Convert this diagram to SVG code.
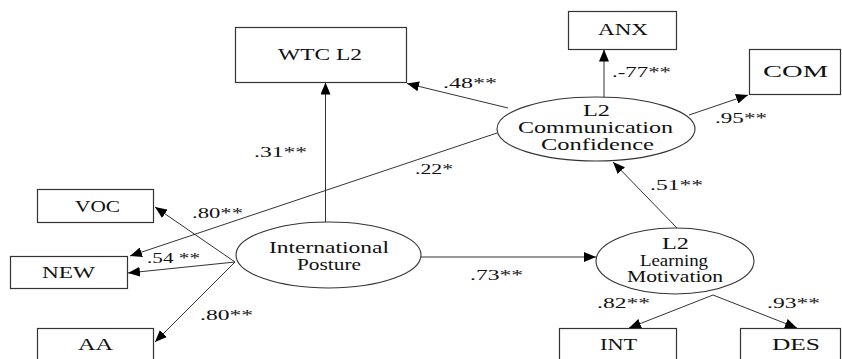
<svg xmlns="http://www.w3.org/2000/svg" width="842" height="359" viewBox="0 0 842 359" font-family="Liberation Serif, DejaVu Serif, serif">
  <style>
    .box { fill: #ffffff; stroke: #333333; stroke-width: 1.2; }
    .lat { fill: #ffffff; stroke: #333333; stroke-width: 1.1; }
    text { font-family: "Liberation Serif", "DejaVu Serif", serif; fill: #111111; }
    .lbl { font-size: 16px; }
    .coef { font-size: 15px; }
    .edge { fill: none; stroke: #333333; stroke-width: 1; marker-end: url(#head); }
  </style>
  <defs>
    <marker id="head" viewBox="0 0 12 10" refX="12" refY="5" markerWidth="12" markerHeight="10" markerUnits="userSpaceOnUse" orient="auto">
      <path d="M0,0 L12,5 L0,10 Z" fill="#000000"/>
    </marker>
  </defs>
  <rect width="842" height="359" fill="#ffffff"/>

  <!-- paths between constructs and indicators -->
  <g id="connectors">
    <line class="edge" x1="325.5" y1="222" x2="325.5" y2="82.5"/>
    <line class="edge" x1="508" y1="108" x2="407" y2="83.5"/>
    <line class="edge" x1="604" y1="97" x2="604" y2="49.5"/>
    <line class="edge" x1="689" y1="115" x2="748" y2="95"/>
    <line class="edge" x1="497" y1="133" x2="130" y2="256"/>
    <line class="edge" x1="677" y1="228" x2="613" y2="162"/>
    <line class="edge" x1="421" y1="257" x2="596" y2="257"/>
    <line class="edge" x1="235" y1="262" x2="155" y2="207"/>
    <line class="edge" x1="235" y1="262" x2="128" y2="273"/>
    <line class="edge" x1="235" y1="262" x2="155" y2="342"/>
    <line class="edge" x1="713" y1="295" x2="629" y2="328"/>
    <line class="edge" x1="713" y1="295" x2="797" y2="328"/>
  </g>

  <!-- path coefficients -->
  <g id="coefficients" font-family="Liberation Serif, DejaVu Serif, serif" font-size="15">
    <text class="coef" x="443" y="88" textLength="54" lengthAdjust="spacingAndGlyphs">.48**</text>
    <text class="coef" x="612" y="77" textLength="59" lengthAdjust="spacingAndGlyphs">.-77**</text>
    <text class="coef" x="715" y="123" textLength="52" lengthAdjust="spacingAndGlyphs">.95**</text>
    <text class="coef" x="254" y="157" textLength="53" lengthAdjust="spacingAndGlyphs">.31**</text>
    <text class="coef" x="415" y="174" textLength="38" lengthAdjust="spacingAndGlyphs">.22*</text>
    <text class="coef" x="192" y="218" textLength="51" lengthAdjust="spacingAndGlyphs">.80**</text>
    <text class="coef" x="147" y="263" textLength="53" lengthAdjust="spacingAndGlyphs">.54 **</text>
    <text class="coef" x="200" y="320" textLength="53" lengthAdjust="spacingAndGlyphs">.80**</text>
    <text class="coef" x="470" y="280" textLength="53" lengthAdjust="spacingAndGlyphs">.73**</text>
    <text class="coef" x="650" y="190" textLength="53" lengthAdjust="spacingAndGlyphs">.51**</text>
    <text class="coef" x="597" y="308" textLength="53" lengthAdjust="spacingAndGlyphs">.82**</text>
    <text class="coef" x="767" y="308" textLength="53" lengthAdjust="spacingAndGlyphs">.93**</text>
  </g>

  <!-- observed variables -->
  <g id="wtc">
    <rect class="box" x="235.5" y="27.5" width="171" height="55"/>
    <text class="lbl" x="278" y="59.5" textLength="84" lengthAdjust="spacingAndGlyphs">WTC L2</text>
  </g>
  <g id="anx">
    <rect class="box" x="568.5" y="11.5" width="108" height="38"/>
    <text class="lbl" x="598" y="35" textLength="50" lengthAdjust="spacingAndGlyphs">ANX</text>
  </g>
  <g id="com">
    <rect class="box" x="749.5" y="49.5" width="91" height="45"/>
    <text class="lbl" x="763" y="77" textLength="65" lengthAdjust="spacingAndGlyphs">COM</text>
  </g>
  <g id="voc">
    <rect class="box" x="37.5" y="189.5" width="116" height="33"/>
    <text class="lbl" x="75" y="212" textLength="45" lengthAdjust="spacingAndGlyphs">VOC</text>
  </g>
  <g id="new">
    <rect class="box" x="10.5" y="256.5" width="117" height="32"/>
    <text class="lbl" x="42" y="278" textLength="53" lengthAdjust="spacingAndGlyphs">NEW</text>
  </g>
  <g id="aa">
    <rect class="box" x="37.5" y="328.5" width="116" height="40"/>
    <text class="lbl" x="78" y="350" textLength="35" lengthAdjust="spacingAndGlyphs">AA</text>
  </g>
  <g id="int">
    <rect class="box" x="559.5" y="328.5" width="117" height="40"/>
    <text class="lbl" x="600" y="350" textLength="37" lengthAdjust="spacingAndGlyphs">INT</text>
  </g>
  <g id="des">
    <rect class="box" x="740.5" y="328.5" width="100" height="40"/>
    <text class="lbl" x="772" y="350" textLength="48" lengthAdjust="spacingAndGlyphs">DES</text>
  </g>

  <!-- latent constructs -->
  <g id="confidence">
    <ellipse class="lat" cx="596" cy="129" rx="99" ry="32"/>
    <text class="lbl" x="583" y="115.5" textLength="27" lengthAdjust="spacingAndGlyphs">L2</text>
    <text class="lbl" x="518" y="132.5" textLength="155" lengthAdjust="spacingAndGlyphs">Communication</text>
    <text class="lbl" x="541" y="150" textLength="113" lengthAdjust="spacingAndGlyphs">Confidence</text>
  </g>
  <g id="posture">
    <ellipse class="lat" cx="328.5" cy="255" rx="92.5" ry="33"/>
    <text class="lbl" x="269" y="252.5" textLength="120" lengthAdjust="spacingAndGlyphs">International</text>
    <text class="lbl" x="297" y="269.5" textLength="64" lengthAdjust="spacingAndGlyphs">Posture</text>
  </g>
  <g id="motivation">
    <ellipse class="lat" cx="675" cy="261" rx="79" ry="33"/>
    <text class="lbl" x="662" y="249" textLength="27" lengthAdjust="spacingAndGlyphs">L2</text>
    <text class="lbl" x="640" y="265.5" textLength="68" lengthAdjust="spacingAndGlyphs">Learning</text>
    <text class="lbl" x="627" y="282" textLength="96" lengthAdjust="spacingAndGlyphs">Motivation</text>
  </g>
</svg>
